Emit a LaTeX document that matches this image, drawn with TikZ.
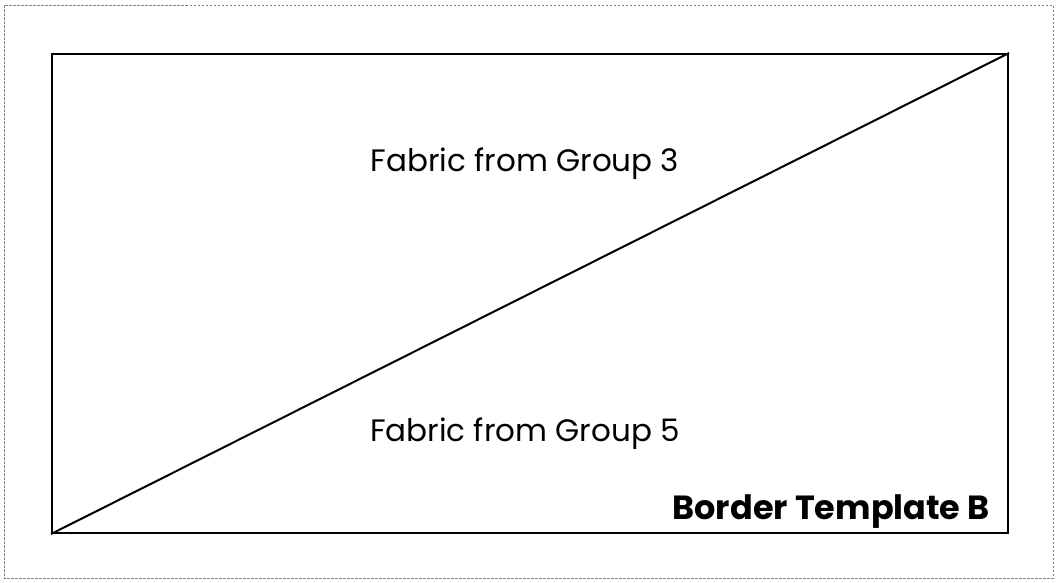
\documentclass[tikz,border=0pt]{standalone}
\usepackage{fontspec}
\setmainfont{Poppins}
\definecolor{pagegray}{RGB}{130, 130, 130}
\usetikzlibrary{positioning, calc}

\begin{document}
\begin{tikzpicture}[x=1pt, y=-1pt,
    panel/.style={draw=black, line width=2pt, minimum width=956pt, minimum height=479pt, inner sep=0pt},
    fabric/.style={font=\fontsize{31}{36}\selectfont, inner sep=0pt},
    caption/.style={font=\fontsize{33.5}{38}\selectfont\bfseries, inner sep=0pt}]
  \useasboundingbox (0,0) rectangle (1058,582);
  % outer page frame
  \draw[pagegray, line width=0.9pt, dash pattern=on 2.5pt off 1.5pt] (4,5) rectangle (1053,578);
  % template rectangle and its diagonal seam
  \node[panel] (block) at (530,293.5) {};
  \draw[line width=2pt] (block.south west) -- (block.north east);
  \node[fabric] (upper) at (525,164) {Fabric from Group 3};
  \node[fabric] (lower) at (525,434) {Fabric from Group 5};
  \node[caption, anchor=east] (title) at (990,512) {Border Template B};
\end{tikzpicture}
\end{document}
